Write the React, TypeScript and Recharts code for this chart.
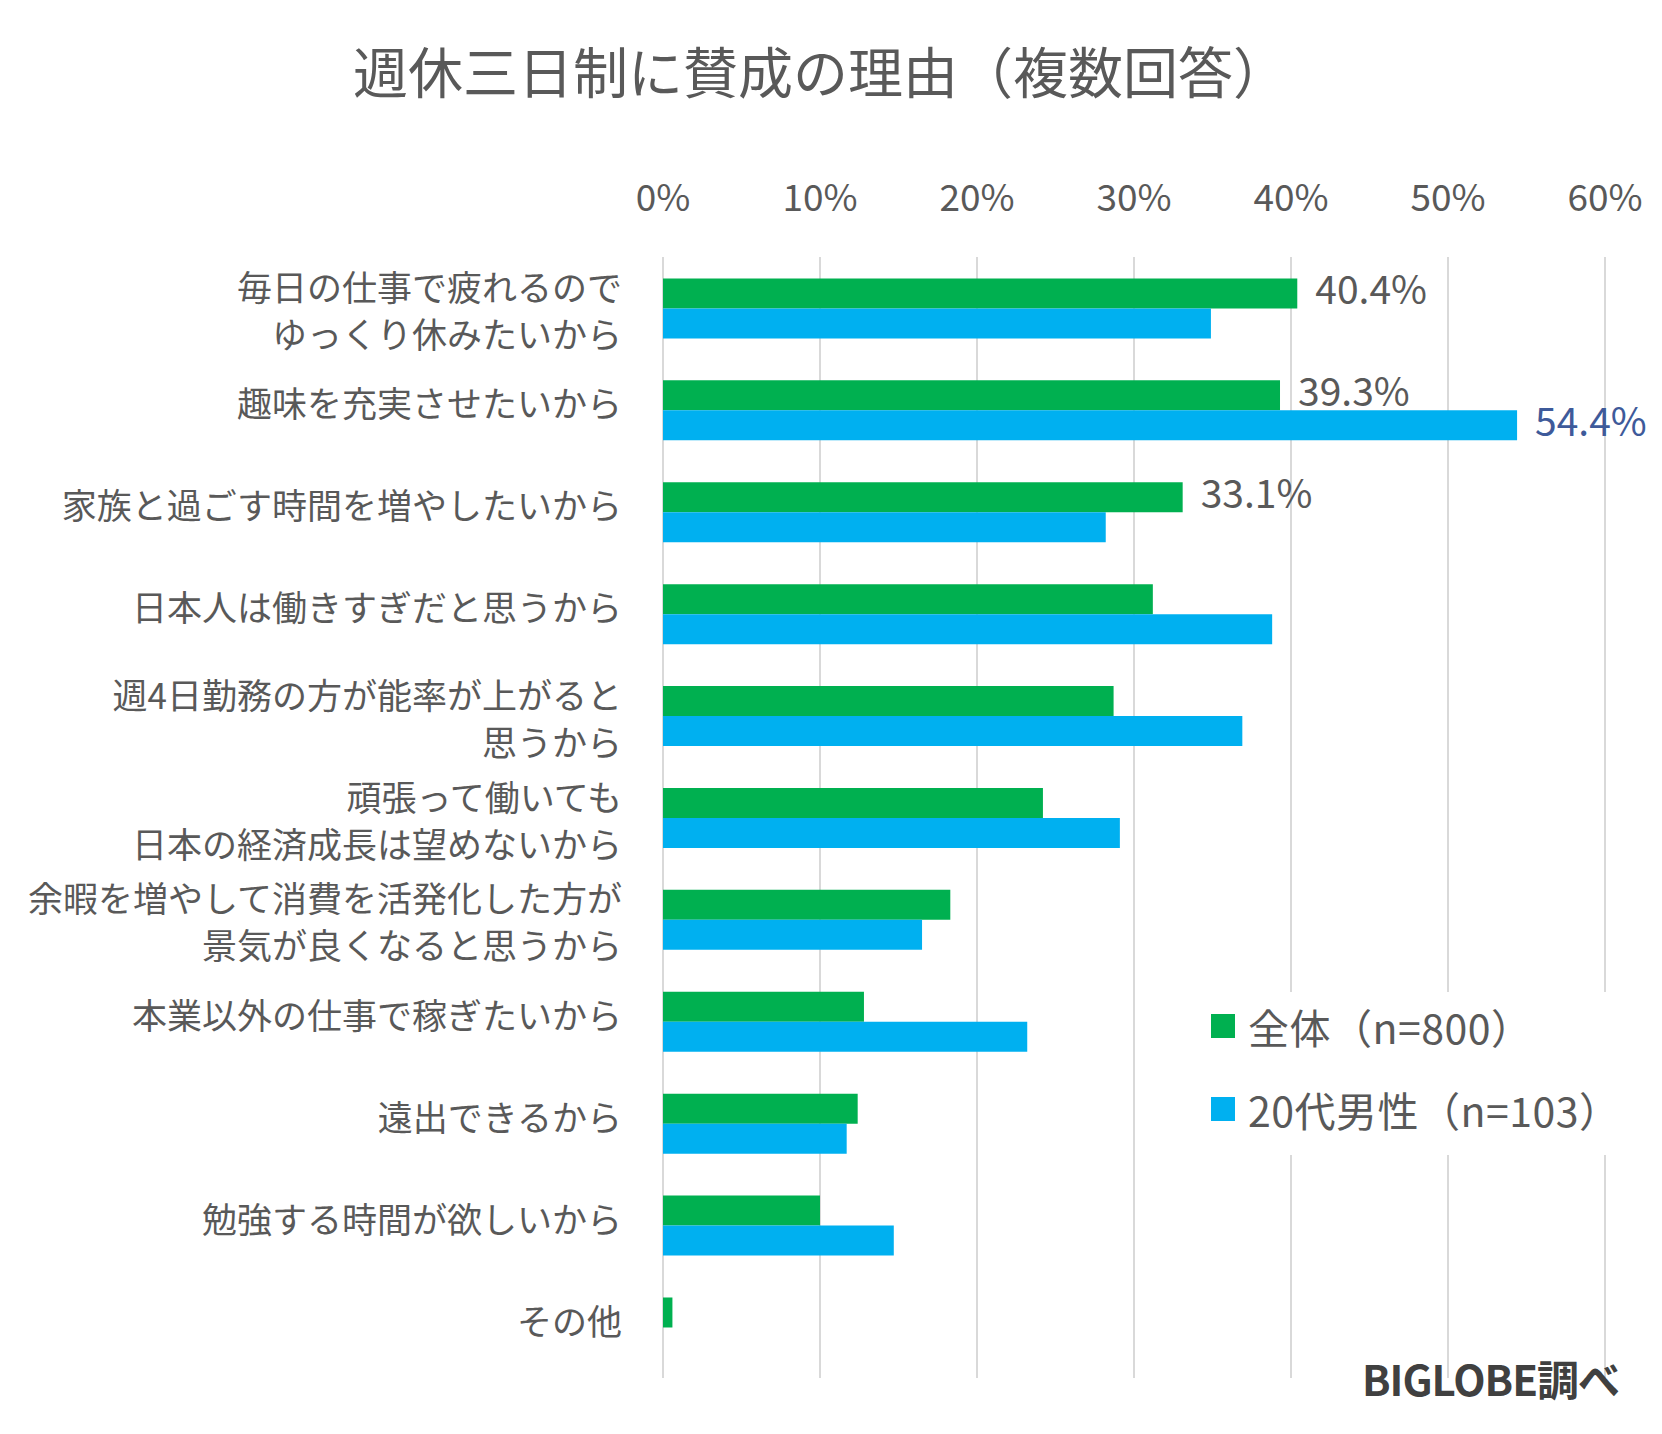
import React from "react";
import { BarChart, Bar, XAxis, YAxis, CartesianGrid, Legend, LabelList } from "recharts";

const categories = [
  "毎日の仕事で疲れるので\nゆっくり休みたいから",
  "趣味を充実させたいから",
  "家族と過ごす時間を増やしたいから",
  "日本人は働きすぎだと思うから",
  "週4日勤務の方が能率が上がると\n思うから",
  "頑張って働いても\n日本の経済成長は望めないから",
  "余暇を増やして消費を活発化した方が\n景気が良くなると思うから",
  "本業以外の仕事で稼ぎたいから",
  "遠出できるから",
  "勉強する時間が欲しいから",
  "その他",
];
const overall = [0.404, 0.393, 0.331, 0.312, 0.287, 0.242, 0.183, 0.128, 0.124, 0.1, 0.006];
const male20s = [0.349, 0.544, 0.282, 0.388, 0.369, 0.291, 0.165, 0.232, 0.117, 0.147, 0];
const overallLabeled = [0, 1, 2];
const maleLabeled = [1];
const xTicks = [0, 0.1, 0.2, 0.3, 0.4, 0.5, 0.6];
const seriesNames = ["全体（n=800）", "20代男性（n=103）"];

const data = categories.map((name, i) => ({ name, overall: overall[i], male: male20s[i] }));

const FONT = "'Noto Sans CJK JP', 'Noto Sans', sans-serif";
const GRAY = "#595959";
const GREEN = "#00b050";
const BLUE = "#00b0f0";
const pct = (v: number) => `${Math.round(v * 100)}%`;

const CategoryTick = (props: any) => {
  const { y, payload } = props;
  const lines = String(payload.value).split("\n");
  const lh = 47;
  const start = lines.length > 1 ? y - ((lines.length - 1) * lh) / 2 + 1 : y - 8;
  return (
    <g>
      {lines.map((l, i) => (
        <text
          key={i}
          x={622}
          y={start + i * lh}
          textAnchor="end"
          dominantBaseline="central"
          fill={GRAY}
          fontSize={35}
          fontFamily={FONT}
        >
          {l}
        </text>
      ))}
    </g>
  );
};

const PercentTick = (props: any) => {
  const { x, payload } = props;
  return (
    <text x={x} y={195} textAnchor="middle" dominantBaseline="central" fill={GRAY} fontSize={37} fontFamily={FONT}>
      {pct(payload.value)}
    </text>
  );
};

const makeLabel = (shown: number[], color: string) => (props: any) => {
  const { x, y, width, height, value, index } = props;
  if (!shown.includes(index)) return null;
  return (
    <text
      x={Number(x) + Number(width) + 18}
      y={Number(y) + Number(height) / 2 - 6}
      dominantBaseline="central"
      fill={color}
      fontSize={39}
      fontFamily={FONT}
    >
      {`${(Number(value) * 100).toFixed(1)}%`}
    </text>
  );
};

const LegendContent = (props: any) => {
  const items = [...(props.payload || [])].sort(
    (a: any, b: any) => seriesNames.indexOf(a.value) - seriesNames.indexOf(b.value)
  );
  return (
    <div style={{ position: "relative", width: 450, height: 163, background: "#fff" }}>
      {items.map((it: any, i: number) => (
        <div
          key={i}
          style={{
            position: "absolute",
            left: 21,
            top: 10 + i * 83,
            height: 48,
            display: "flex",
            alignItems: "center",
            whiteSpace: "nowrap",
          }}
        >
          <div style={{ width: 24, height: 24, background: it.color, marginRight: 13 }} />
          <span style={{ fontFamily: FONT, fontSize: 41, color: GRAY, lineHeight: "48px", letterSpacing: 0.5 }}>
            {it.value}
          </span>
        </div>
      ))}
    </div>
  );
};

export default function App() {
  return (
    <div style={{ position: "absolute", left: 0, top: 0, width: 1662, height: 1434, background: "#fff", overflow: "hidden" }}>
      <div
        style={{
          position: "absolute",
          left: 353,
          top: 42,
          fontFamily: FONT,
          fontSize: 55,
          lineHeight: "55px",
          color: GRAY,
          whiteSpace: "nowrap",
        }}
      >
        週休三日制に賛成の理由（複数回答）
      </div>
      <BarChart
        width={1662}
        height={1434}
        data={data}
        layout="vertical"
        margin={{ top: 150, right: 57, bottom: 56, left: 0 }}
        barCategoryGap="21%"
        barGap={0}
      >
        <CartesianGrid horizontal={false} stroke="#d9d9d9" strokeWidth={2} />
        <XAxis
          type="number"
          orientation="top"
          domain={[0, 0.6]}
          ticks={xTicks}
          height={107}
          axisLine={false}
          tickLine={false}
          tick={PercentTick}
          interval={0}
        />
        <YAxis
          type="category"
          dataKey="name"
          width={663}
          axisLine={false}
          tickLine={false}
          tick={CategoryTick}
          interval={0}
        />
        <Legend
          layout="horizontal"
          verticalAlign="middle"
          align="center"
          content={LegendContent}
          wrapperStyle={{ position: "absolute", left: 1190, top: 992, width: 450, height: 163 }}
        />
        <Bar dataKey="overall" name={seriesNames[0]} fill={GREEN} isAnimationActive={false}>
          <LabelList dataKey="overall" content={makeLabel(overallLabeled, GRAY)} />
        </Bar>
        <Bar dataKey="male" name={seriesNames[1]} fill={BLUE} isAnimationActive={false}>
          <LabelList dataKey="male" content={makeLabel(maleLabeled, "#3e5a9a")} />
        </Bar>
      </BarChart>
      <div
        style={{
          position: "absolute",
          left: 1362,
          top: 1357,
          fontFamily: FONT,
          fontSize: 42,
          fontWeight: 700,
          lineHeight: "42px",
          color: "#404040",
          whiteSpace: "nowrap",
          letterSpacing: -1,
        }}
      >
        BIGLOBE調べ
      </div>
    </div>
  );
}
